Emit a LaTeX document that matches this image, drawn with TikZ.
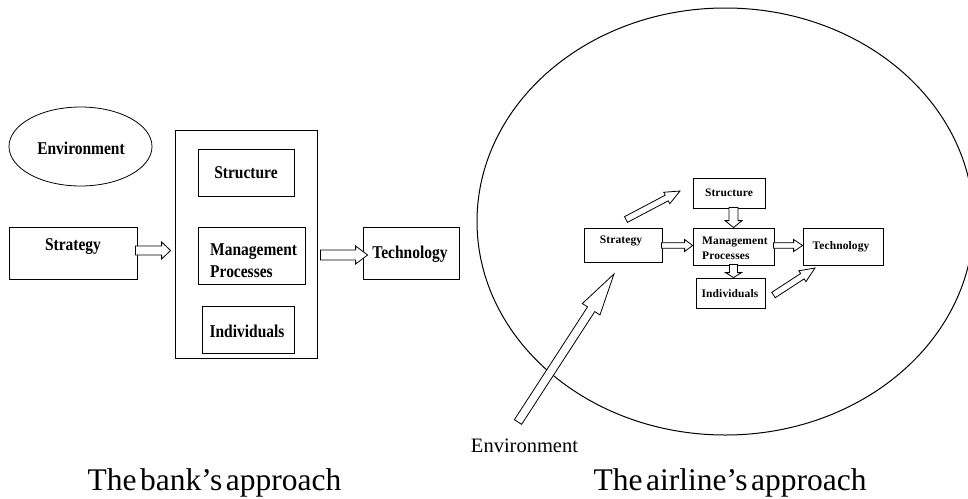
\documentclass[tikz,border=0pt]{standalone}
\usepackage{fontspec}
\setmainfont{Liberation Serif}
\newfontfamily\labelfont[FakeStretch=0.86]{Liberation Serif}
\newfontfamily\smallbold[LetterSpace=1]{Liberation Serif}
\newfontfamily\capfont[WordSpace=0.45]{Liberation Serif}
\usetikzlibrary{shapes.geometric,calc}

% hollow block arrow: #1 tail, #2 tip, #3 shaft half-width, #4 head half-width, #5 head length (pt)
\newcommand{\blockarrow}[5]{%
  \draw[blockline] let \p1=#1, \p2=#2,
      \n1={atan2(\y2-\y1,\x2-\x1)},
      \n2={veclen(\x2-\x1,\y2-\y1)},
      \n3={\n2-#5pt} in
    [shift={(\p1)}, rotate=\n1]
    (0pt,#3pt) -- (\n3,#3pt) -- (\n3,#4pt) -- (\n2,0pt)
    -- (\n3,-#4pt) -- (\n3,-#3pt) -- (0pt,-#3pt) -- cycle;}

\tikzset{
  box/.style={draw, line width=0.8pt, inner sep=0pt, rectangle},
  oval/.style={draw, ellipse, inner sep=0pt},
  blockline/.style={draw, line width=0.8pt, fill=white, line join=miter},
  bigtxt/.style={font=\labelfont\bfseries\fontsize{18}{22}\selectfont, inner sep=0pt},
  smalltxt/.style={font=\smallbold\bfseries\fontsize{11.5}{15}\selectfont, inner sep=0pt},
  caption/.style={font=\capfont\fontsize{31.5}{34}\selectfont, inner sep=0pt, anchor=base},
}

\begin{document}
\begin{tikzpicture}[x=1pt, y=-1pt]
\useasboundingbox (0,0) rectangle (968,498);
\clip (0,0) rectangle (968,498);

% ---------- the bank's approach ----------
\node[oval, line width=0.8pt, minimum width=143pt, minimum height=79pt] (lenv) at (80.5,146.5) {};
\node[bigtxt] (lenvt) at (81,148) {Environment};

\node[box, minimum width=128pt, minimum height=52pt] (lstrat) at (73,253) {};
\node[bigtxt] (lstratt) at (73,247) {Strategy};

\node[box, minimum width=142pt, minimum height=228pt] (lbig) at (246,244) {};

\node[box, minimum width=96pt, minimum height=47pt] (lstruct) at (246,172.5) {};
\node[bigtxt] (lstructt) at (246,173) {Structure};

\node[box, minimum width=107pt, minimum height=57pt] (lmgmt) at (251.5,255.5) {};
\node[bigtxt, align=left, anchor=west] (lmgmtt) at (210,261) {Management\\Processes};

\node[box, minimum width=92pt, minimum height=47pt] (lind) at (248,329.5) {};
\node[bigtxt] (lindt) at (247,331) {Individuals};

\node[box, minimum width=96pt, minimum height=52pt] (ltech) at (411,253) {};
\node[bigtxt] (ltecht) at (410,254) {Technology};

\blockarrow{($(lstrat.east)+(-2,-2.5)$)}{($(lbig.west |- lstrat.east)+(-4,-2.5)$)}{4.5}{8.5}{9}
\blockarrow{($(lbig.east |- ltech.west)+(3,2)$)}{($(ltech.west)+(5,2)$)}{5}{9}{12}

\node[caption] (lcap) at (214.5,490) {The bank’s approach};

% ---------- the airline's approach ----------
\node[oval, line width=1pt, minimum width=496.6pt, minimum height=427pt] (orbit) at (725.3,221.5) {};

\node[box, minimum width=78pt, minimum height=34pt] (rstrat) at (623,245) {};
\node[smalltxt] (rstratt) at (621,241) {Strategy};

\node[box, minimum width=72pt, minimum height=30pt] (rstruct) at (729,193) {};
\node[smalltxt] (rstructt) at (729,193) {Structure};

\node[box, minimum width=81pt, minimum height=37pt] (rmgmt) at (733.5,246.5) {};
\node[smalltxt, align=left, anchor=west] (rmgmtt) at (702,248.5) {Management\\Processes};

\node[box, minimum width=80pt, minimum height=37pt] (rtech) at (843,246.5) {};
\node[smalltxt] (rtecht) at (841,247) {Technology};

\node[box, minimum width=69pt, minimum height=30pt] (rind) at (730.5,293) {};
\node[smalltxt] (rindt) at (730,294) {Individuals};

\blockarrow{($(rstrat.east)+(-1,0.5)$)}{($(rmgmt.west)+(0,-1)$)}{2.8}{6}{8}
\blockarrow{($(rmgmt.east)+(-1,-1)$)}{($(rtech.west)+(0,-1)$)}{2.8}{6}{9}
\blockarrow{($(rstruct.south)+(4.5,-1)$)}{(rmgmt.north)}{4.5}{8.5}{7}
\blockarrow{($(rmgmt.south)+(0,-1)$)}{(rmgmt.south |- rind.north)}{4}{8}{5}

\coordinate (upstart) at (626,219.5);
\coordinate (upend) at (680,191);
\blockarrow{(upstart)}{(upend)}{3.2}{6.5}{15}

\coordinate (indstart) at (773.5,295);
\coordinate (indend) at (815,268);
\blockarrow{(indstart)}{(indend)}{3.2}{6.5}{15}

\coordinate (envtail) at (518,422);
\coordinate (envtip) at (614,274);
\blockarrow{(envtail)}{(envtip)}{4.3}{10.5}{42}

\node[font=\fontsize{20.5}{22}\selectfont, inner sep=0pt, anchor=base] (renv) at (524.5,452) {Environment};

\node[caption] (rcap) at (730,490) {The airline’s approach};
\end{tikzpicture}
\end{document}
